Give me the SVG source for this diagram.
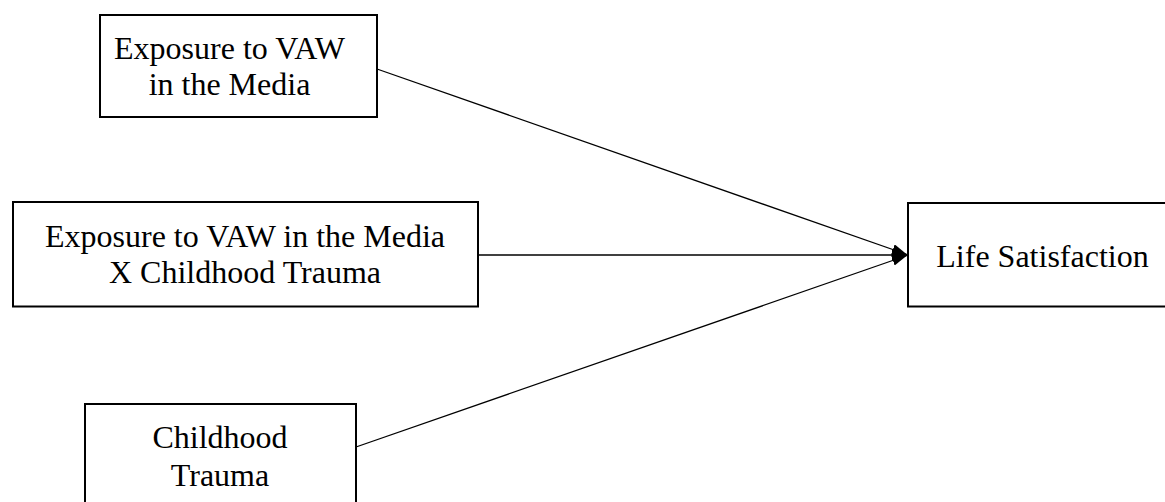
<svg xmlns="http://www.w3.org/2000/svg" width="1165" height="502" viewBox="0 0 1165 502">
<style>
.box{fill:#fff;stroke:#000;stroke-width:2}
.lbl{font-family:"Liberation Serif","Times New Roman",serif;font-size:32px;fill:#000;text-anchor:middle}
.edge{stroke:#000;stroke-width:1.3;fill:none}
</style>
<defs>
<marker id="ah" markerUnits="userSpaceOnUse" markerWidth="16" markerHeight="12" refX="15" refY="5.5" orient="auto">
<path d="M0,0 L15,5.5 L0,11 z" fill="#000"/>
</marker>
</defs>
<rect width="1165" height="502" fill="#fff"/>
<g id="connectors">
<line class="edge" x1="377" y1="69" x2="907" y2="254.5" marker-end="url(#ah)"/>
<line class="edge" x1="478" y1="255" x2="907" y2="255" marker-end="url(#ah)"/>
<line class="edge" x1="356" y1="447" x2="907" y2="255.5" marker-end="url(#ah)"/>
</g>
<g id="node-exposure">
<rect class="box" x="100" y="15" width="277" height="102"/>
<text class="lbl" x="229.5" y="59">Exposure to VAW</text>
<text class="lbl" x="229.5" y="95">in the Media</text>
</g>
<g id="node-interaction">
<rect class="box" x="13" y="202" width="465" height="104.5"/>
<text class="lbl" x="245" y="247">Exposure to VAW in the Media</text>
<text class="lbl" x="245" y="283">X Childhood Trauma</text>
</g>
<g id="node-trauma">
<rect class="box" x="85" y="404" width="271" height="120"/>
<text class="lbl" x="220" y="448">Childhood</text>
<text class="lbl" x="220" y="486">Trauma</text>
</g>
<g id="node-life">
<rect class="box" x="908" y="203" width="270" height="103.5"/>
<text class="lbl" x="1042.5" y="267">Life Satisfaction</text>
</g>
</svg>
